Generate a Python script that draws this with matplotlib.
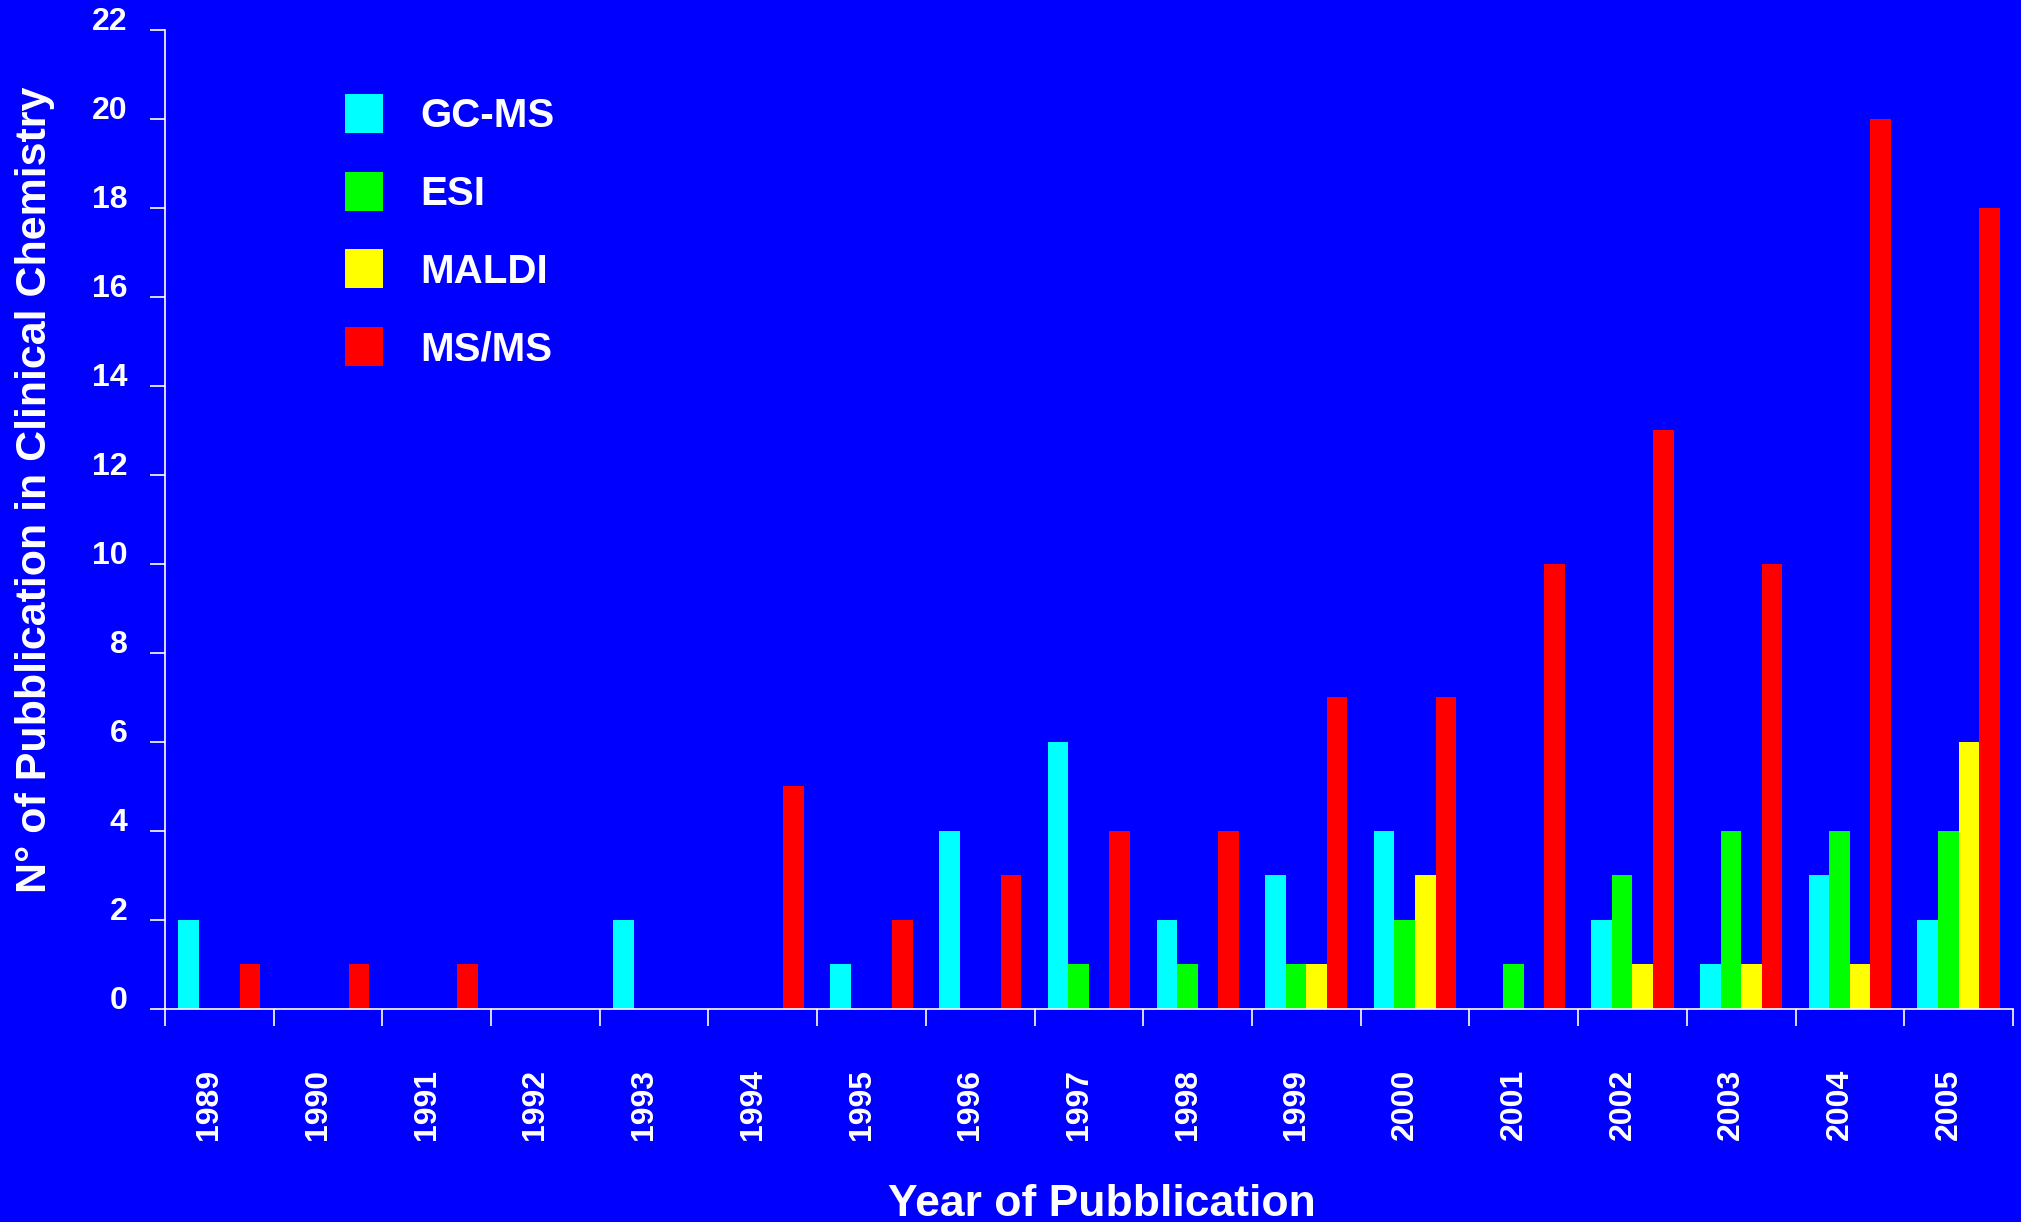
import matplotlib
matplotlib.use("Agg")
import matplotlib.pyplot as plt
import matplotlib.transforms as mtransforms
import numpy as np
from matplotlib.patches import Patch

years = ["1989", "1990", "1991", "1992", "1993", "1994", "1995", "1996", "1997",
         "1998", "1999", "2000", "2001", "2002", "2003", "2004", "2005"]
gc_ms = [2, 0, 0, 0, 2, 0, 1, 4, 6, 2, 3, 4, 0, 2, 1, 3, 2]
esi = [0, 0, 0, 0, 0, 0, 0, 0, 1, 1, 1, 2, 1, 3, 4, 4, 4]
maldi = [0, 0, 0, 0, 0, 0, 0, 0, 0, 0, 1, 3, 0, 1, 1, 1, 6]
ms_ms = [1, 1, 1, 0, 0, 5, 2, 3, 4, 4, 7, 7, 10, 13, 10, 20, 18]
series_names = ["GC-MS", "ESI", "MALDI", "MS/MS"]
series_colors = ["#00FFFF", "#00FF00", "#FFFF00", "#FF0000"]
y_ticks = list(range(0, 23, 2))

plt.rcParams["font.family"] = ["Liberation Sans", "DejaVu Sans"]
plt.rcParams["font.weight"] = "bold"

bg = "#0000FF"
fig = plt.figure(figsize=(20.21, 12.22), dpi=100, facecolor=bg)
ax = fig.add_axes([0.0816, 0.1743, 0.9144, 0.8015], facecolor=bg)

x = np.arange(len(years))
width = 0.189
for k, (vals, name, col) in enumerate(zip([gc_ms, esi, maldi, ms_ms], series_names, series_colors)):
    ax.bar(x + (k - 1.5) * width, vals, width=width, color=col, label=name,
           linewidth=0, zorder=2)

ax.set_xlim(-0.5, len(years) - 0.5)
ax.set_ylim(0, 22)

for s in ["top", "right"]:
    ax.spines[s].set_visible(False)
for s in ["left", "bottom"]:
    ax.spines[s].set_color("white")
    ax.spines[s].set_linewidth(1.2)

ax.set_yticks(y_ticks)
ax.set_yticklabels([str(v) for v in y_ticks], fontsize=23, fontweight="bold", color="white")
ax.tick_params(axis="y", direction="out", length=11, width=1.2, color="white", pad=16)
for lbl in ax.get_yticklabels():
    lbl.set_va("baseline")

# Group boundaries carry the tick marks; year labels sit at group centres
ax.set_xticks(np.arange(-0.5, len(years), 1.0), minor=True)
ax.set_xticks(x)
ax.set_xticklabels(years, rotation=90, fontsize=23, fontweight="bold", color="white")
ax.tick_params(axis="x", which="minor", direction="out", length=12.5, width=1.2, color="white")
ax.tick_params(axis="x", which="major", length=0, pad=43)
shift = mtransforms.ScaledTranslation(-0.10, 0, fig.dpi_scale_trans)
for lbl in ax.get_xticklabels():
    lbl.set_va("top")
    lbl.set_transform(lbl.get_transform() + shift)

fig.text(35 / 2021, 1 - 490 / 1222, "N° of Pubblication in Clinical Chemistry",
         rotation=90, ha="center", va="center", fontsize=31, fontweight="bold", color="white")
fig.text(1102 / 2021, 6 / 1222, "Year of Pubblication",
         ha="center", va="baseline", fontsize=32, fontweight="bold", color="white")

handles = [Patch(facecolor=c, edgecolor="none") for c in series_colors]
leg = ax.legend(handles, series_names, loc="upper left", bbox_to_anchor=(0.0975, 0.934),
                frameon=False, borderpad=0, borderaxespad=0,
                handlelength=0.94, handleheight=1.12, labelspacing=0.9, handletextpad=0.92,
                prop={"weight": "bold", "size": 29})
for t in leg.get_texts():
    t.set_color("white")

fig.savefig("out.png", dpi=100, facecolor=bg)
